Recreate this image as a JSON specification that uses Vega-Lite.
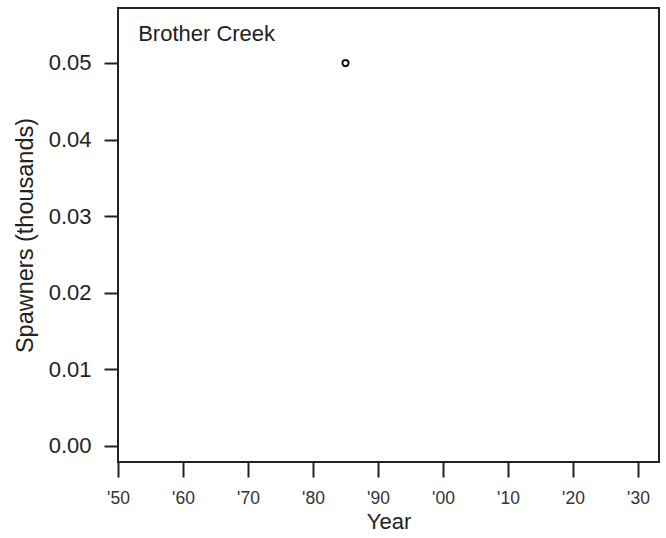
{
  "$schema": "https://vega.github.io/schema/vega-lite/v6.json",
  "width": 541,
  "height": 454,
  "autosize": {"type": "none"},
  "padding": {"left": 118, "top": 8, "right": 7, "bottom": 76},
  "background": "white",
  "config": {
    "font": "Liberation Sans",
    "view": {"stroke": "#222222", "strokeWidth": 2}
  },
  "data": {"values": [{"year": 1985, "spawners": 0.05, "label": "Brother Creek"}]},
  "layer": [
    {
      "mark": {"type": "point", "shape": "circle", "filled": false, "stroke": "#111111", "strokeWidth": 2, "size": 38, "opacity": 1},
      "encoding": {
        "x": {
          "field": "year", "type": "quantitative",
          "scale": {"domain": [1950, 2033.23], "nice": false, "zero": false},
          "axis": {
            "title": "Year",
            "values": [1950,1955,1960,1965,1970,1975,1980,1985,1990,1995,2000,2005,2010,2015,2020,2025,2030],
            "labelExpr": "datum.value % 10 === 0 ? \"'\" + substring(toString(datum.value), 2, 4) : ''",
            "domain": false,
            "grid": false,
            "ticks": true,
            "tickSize": 15,
            "tickWidth": 2,
            "tickColor": "#222222",
            "labelFontSize": 17.5,
            "labelColor": "#333333",
            "labelPadding": 12,
            "labelFlush": false,
            "labelOverlap": false,
            "titleFontSize": 22,
            "titleFontWeight": "normal",
            "titleColor": "#222222",
            "titleBaseline": "alphabetic",
            "titleY": 66
          }
        },
        "y": {
          "field": "spawners", "type": "quantitative",
          "scale": {"domain": [-0.00209, 0.05718], "nice": false, "zero": false},
          "axis": {
            "title": "Spawners (thousands)",
            "values": [0, 0.01, 0.02, 0.03, 0.04, 0.05],
            "format": ".2f",
            "domain": false,
            "grid": false,
            "tickSize": 14,
            "tickWidth": 2,
            "tickColor": "#222222",
            "labelFontSize": 22,
            "labelColor": "#222222",
            "labelPadding": 13,
            "labelFlush": false,
            "labelOverlap": false,
            "titleFontSize": 23.5,
            "titleFontWeight": "normal",
            "titleColor": "#222222",
            "titleBaseline": "alphabetic",
            "titleX": -86
          }
        }
      }
    },
    {
      "mark": {"type": "text", "align": "left", "baseline": "alphabetic", "fontSize": 22, "color": "#222222"},
      "encoding": {
        "x": {"datum": 1953.1, "type": "quantitative"},
        "y": {"datum": 0.05287, "type": "quantitative"},
        "text": {"field": "label"}
      }
    }
  ]
}
